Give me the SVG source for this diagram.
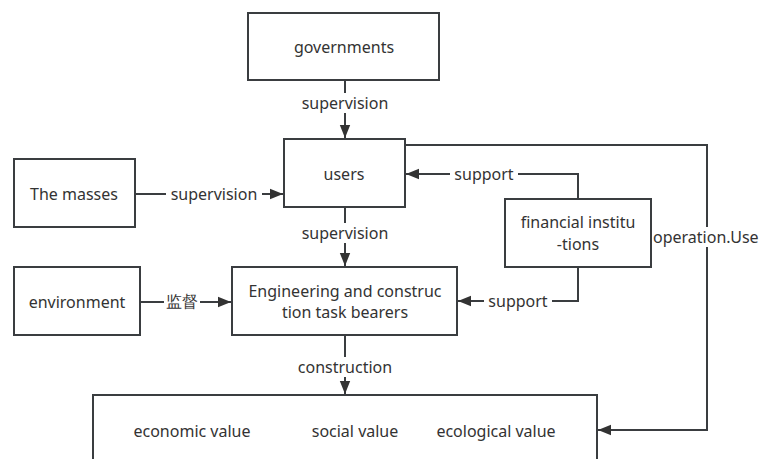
<svg xmlns="http://www.w3.org/2000/svg" width="760" height="459" viewBox="0 0 760 459">
<style>
.box{fill:#fff;stroke:#3a3d40;stroke-width:2}
.ln{fill:none;stroke:#3a3d40;stroke-width:2}
text{font-family:"Noto Sans","Open Sans",sans-serif;font-size:16px;fill:#333;text-anchor:middle;dominant-baseline:central}
.bg{fill:#fff}
</style>
<defs>
<marker id="ah" viewBox="0 0 10 10" refX="10" refY="5" markerWidth="6.5" markerHeight="6.5" markerUnits="strokeWidth" orient="auto"><path d="M0,1 L10,5 L0,9 z" fill="#333"/></marker>
</defs>
<g id="connectors">
<path class="ln" d="M345,80 V138" marker-end="url(#ah)"/>
<path class="ln" d="M135,194 H283" marker-end="url(#ah)"/>
<path class="ln" d="M345,207 V266" marker-end="url(#ah)"/>
<path class="ln" d="M140,302 H231" marker-end="url(#ah)"/>
<path class="ln" d="M345,335 V394" marker-end="url(#ah)"/>
<path class="ln" d="M578,199 V174 H406" marker-end="url(#ah)"/>
<path class="ln" d="M578,267 V301 H458" marker-end="url(#ah)"/>
<path class="ln" d="M405,145 H707 V430 H598" marker-end="url(#ah)"/>
<rect class="bg" x="297" y="93" width="96" height="20"/>
<text x="345" y="103">supervision</text>
<rect class="bg" x="166" y="184" width="96" height="20"/>
<text x="214" y="194">supervision</text>
<rect class="bg" x="297" y="223" width="96" height="20"/>
<text x="345" y="233">supervision</text>
<rect class="bg" x="164" y="292" width="36" height="20"/>
<text x="182" y="301">监督</text>
<rect class="bg" x="295" y="357" width="100" height="20"/>
<text x="345" y="367">construction</text>
<rect class="bg" x="450" y="164" width="68" height="20"/>
<text x="484" y="174">support</text>
<rect class="bg" x="484" y="291" width="68" height="20"/>
<text x="518" y="301">support</text>
<rect class="bg" x="652" y="227" width="108" height="20"/>
<text x="653" y="237" style="text-anchor:start">operation.Use</text>
</g>
<g id="governments"><rect class="box" x="248" y="13" width="191" height="67"/><text x="344" y="47">governments</text></g>
<g id="users"><rect class="box" x="284" y="139" width="121" height="68"/><text x="344" y="174">users</text></g>
<g id="masses"><rect class="box" x="14" y="159" width="121" height="68"/><text x="74" y="194">The masses</text></g>
<g id="financial"><rect class="box" x="505" y="199" width="146" height="68"/><text x="578" y="222">financial institu</text><text x="578" y="244">-tions</text></g>
<g id="environment"><rect class="box" x="14" y="267" width="126" height="68"/><text x="77" y="302">environment</text></g>
<g id="engineering"><rect class="box" x="232" y="267" width="225" height="68"/><text x="345" y="291">Engineering and construc</text><text x="345" y="312">tion task bearers</text></g>
<g id="values"><rect class="box" x="93" y="395" width="504" height="80"/><text x="192" y="431">economic value</text><text x="355" y="431">social value</text><text x="496" y="431">ecological value</text></g>
</svg>
